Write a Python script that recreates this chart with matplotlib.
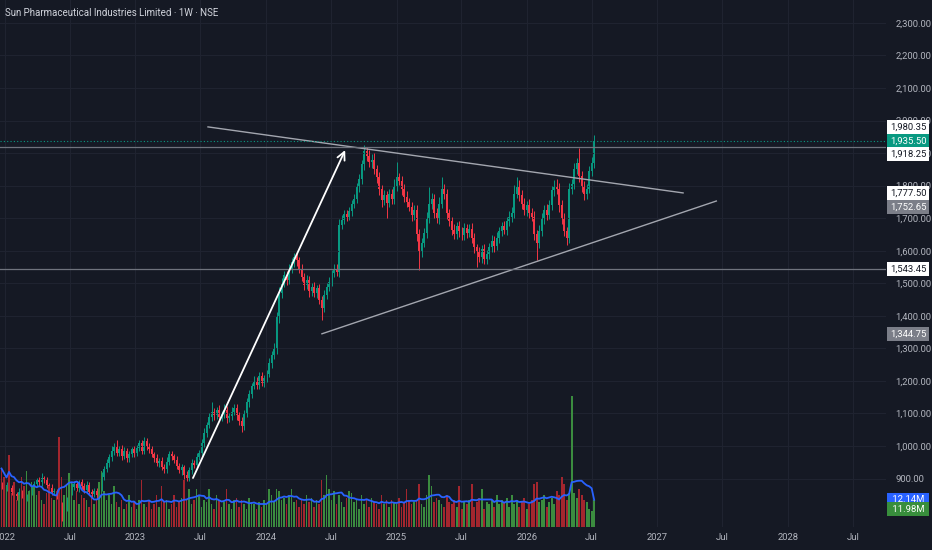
import numpy as np
import pandas as pd
import matplotlib
matplotlib.use("Agg")
import matplotlib.pyplot as plt
import matplotlib.dates as mdates

plt.rcParams['font.family'] = ['Roboto', 'DejaVu Sans']

# weekly closes
closes = [875, 868, 880, 872, 860, 852, 845, 858, 850, 838, 845, 855,
          868, 882, 895, 888, 902, 895,
          880, 872, 858, 862, 848,
          820, 795, 810, 835,
          858, 875, 882,
          870, 888, 878, 865, 880, 860,
          852, 862, 848, 870,
          905, 930, 948, 965,
          985, 1000, 978, 992,
          970, 985, 962, 975, 990, 978,
          995, 1008, 985, 1015, 1000, 990,
          975, 962, 948, 955, 935, 928,
          952, 975, 968, 958,
          940, 925, 935, 912, 902,
          925, 948, 942, 965, 980,
          1010, 1040, 1065, 1090, 1105,
          1095, 1110, 1090, 1098, 1112, 1085, 1092, 1105, 1118, 1095, 1078, 1062,
          1100, 1135, 1160, 1185,
          1200, 1188, 1215, 1195, 1208, 1222,
          1255, 1280, 1300,
          1395, 1470, 1500,
          1525, 1510, 1545, 1565, 1580, 1570,
          1545, 1520,
          1495, 1510, 1475, 1490, 1470, 1485,
          1450, 1425,
          1465, 1490, 1505,
          1530, 1545, 1535,
          1680,
          1695, 1712, 1705, 1722,
          1745, 1760,
          1795, 1820,
          1865, 1905, 1890,
          1872, 1880,
          1850, 1825,
          1790, 1755,
          1770, 1748, 1775, 1760,
          1800, 1825, 1815,
          1790, 1765, 1750,
          1735, 1710, 1725,
          1650, 1600,
          1625, 1655,
          1700, 1745, 1760,
          1715, 1700,
          1745, 1790, 1775,
          1715, 1690,
          1665, 1650, 1675, 1660, 1648, 1670, 1655, 1668,
          1640, 1610,
          1595, 1580, 1605, 1575, 1590,
          1610, 1630, 1615, 1640,
          1660, 1675, 1665, 1690, 1705, 1715,
          1775, 1800,
          1770, 1745,
          1725, 1740, 1715, 1705,
          1650, 1625, 1660,
          1700, 1725, 1710, 1740,
          1785, 1800, 1790,
          1740, 1700, 1660, 1640,
          1790, 1805,
          1850, 1870,
          1830,
          1795, 1775, 1790,
          1845, 1870,
          1935.5]
first_open = 880

up_wick = [8, 6, 10, 7, 9, 5, 8, 12, 6, 9, 7, 10,
           9, 12, 8, 10, 14, 7, 9, 6, 11, 8, 7, 10,
           9, 12, 8, 14, 10, 9, 12, 8, 10, 7, 11, 9,
           8, 10, 9, 12, 14, 10, 12, 9, 15, 10, 18, 8,
           10, 12, 9, 11, 8, 10, 9, 12, 10, 12, 9, 8,
           10, 8, 12, 9, 11, 10, 14, 9, 10, 8, 12, 9,
           10, 8, 12, 9, 11, 10, 13, 9, 12, 14, 10, 12,
           30, 12, 10, 15, 11, 18, 12, 10, 14, 12, 11, 9,
           12, 10, 14, 12, 10, 15, 12, 11, 13, 10, 12, 14,
           12, 15, 18, 20, 16, 14, 12, 15, 13, 12, 16, 12,
           14, 12, 16, 13, 12, 14, 11, 13, 12, 14, 12, 15,
           12, 14, 13, 18, 15, 12, 14, 13, 12, 15, 14, 16,
           15, 20, 14, 18, 16, 20, 14, 18, 12, 15, 14, 16,
           14, 20, 47, 15, 16, 14, 18, 12, 14, 16, 15, 18,
           14, 16, 20, 50, 18, 14, 16, 20, 36, 15, 16, 14,
           14, 18, 12, 15, 14, 16, 12, 15, 18, 14, 12, 15,
           14, 16, 12, 15, 18, 14, 16, 14, 12, 15, 14, 18,
           20, 26, 26, 18, 15, 16, 14, 18, 15, 16, 14, 18,
           15, 14, 18, 16, 14, 17, 20, 18, 16, 15, 14, 18,
           16, 20, 14, 45, 15, 18, 14, 16, 18, 20]

down_wick = [8, 10, 6, 9, 12, 8, 10, 7, 9, 11, 8, 6,
             7, 9, 8, 12, 10, 8, 9, 11, 8, 10, 12, 15,
             25, 12, 10, 8, 9, 11, 8, 12, 10, 9, 8, 12,
             10, 8, 12, 9, 8, 10, 9, 11, 10, 12, 9, 10,
             12, 9, 11, 10, 8, 12, 9, 10, 11, 9, 12, 10,
             9, 12, 10, 11, 9, 10, 12, 9, 11, 10, 12, 9,
             14, 12, 10, 9, 12, 10, 11, 9, 10, 12, 11, 10,
             12, 14, 12, 10, 13, 12, 14, 11, 12, 10, 14, 12,
             19, 12, 10, 14, 12, 11, 14, 12, 10, 13, 12, 11,
             14, 12, 16, 18, 14, 12, 15, 13, 12, 14, 16, 12,
             14, 15, 13, 16, 14, 12, 15, 13, 38, 14, 12, 15,
             13, 12, 14, 15, 12, 14, 13, 12, 15, 14, 12, 15,
             14, 16, 15, 14, 18, 15, 16, 18, 20, 16, 48, 15,
             18, 15, 16, 14, 18, 15, 16, 14, 18, 16, 20, 59,
             18, 15, 16, 14, 18, 16, 15, 18, 14, 16, 18, 15,
             16, 14, 15, 18, 14, 16, 15, 14, 16, 18, 45, 16,
             18, 15, 16, 14, 15, 18, 14, 16, 15, 14, 16, 15,
             16, 15, 14, 18, 16, 15, 18, 16, 14, 18, 54, 16,
             15, 18, 16, 14, 15, 18, 16, 20, 18, 16, 22, 15,
             16, 14, 15, 18, 16, 20, 15, 14, 16, 15]

# weekly volume in millions
volumes = [26, 22, 18, 32, 15, 20, 12, 14, 22, 18, 25, 16,
           20, 18, 14, 16, 12, 10, 15, 18, 13, 12, 16, 40,
           22, 14, 18, 24, 20, 12, 16, 10, 14, 13, 12, 9,
           14, 10, 12, 20, 25, 16, 12, 14, 10, 18, 11, 9,
           12, 8, 10, 14, 9, 11, 8, 12, 21, 10, 9, 12,
           8, 10, 14, 9, 18, 11, 12, 8, 10, 14, 9, 11,
           13, 21, 12, 17, 10, 12, 17, 14, 9, 12, 11, 17,
           10, 8, 14, 12, 9, 11, 17, 10, 8, 12, 13, 9,
           12, 10, 8, 13, 11, 10, 8, 11, 9, 12, 10, 17,
           14, 11, 17, 16, 12, 13, 10, 14, 17, 11, 12, 9,
           12, 10, 14, 11, 13, 9, 12, 10, 21, 14, 23, 17,
           12, 16, 10, 14, 11, 9, 13, 16, 15, 11, 12, 8,
           14, 10, 12, 9, 13, 11, 10, 8, 14, 10, 12, 9,
           12, 11, 10, 13, 9, 11, 17, 12, 10, 11, 12, 19,
           10, 9, 14, 23, 18, 11, 13, 12, 10, 9, 14, 11,
           10, 12, 9, 18, 8, 11, 10, 12, 19, 9, 11, 13,
           17, 8, 11, 10, 12, 9, 14, 10, 12, 11, 13, 9,
           14, 10, 12, 9, 11, 13, 8, 10, 12, 19, 20, 11,
           12, 14, 9, 11, 13, 10, 16, 14, 22, 19, 12, 15,
           58, 15, 13, 17, 14, 12, 11, 8, 7, 11.98]
vol_ma_len = 9

first_week = "2021-12-22"

# drawings on the chart
upper_dates = ["2023-07-23", "2027-03-14"]
upper_prices = [1980.35, 1777.50]
lower_dates = ["2024-06-06", "2027-06-15"]
lower_prices = [1344.75, 1752.65]
hline_prices = [1918.25, 1543.45]
last_price = 1935.50
arrow_start = ("2023-06-11", 901.7)
arrow_end = ("2024-08-10", 1909.0)

price_ticks = np.arange(900, 2301, 100)

BG = '#151924'
GRID = '#1f2330'
TXT = '#b2b5be'
UP = '#089981'
DN = '#f23645'
VUP = '#3b8c3f'
VDN = '#a3262e'

weeks = pd.date_range(first_week, periods=len(closes), freq="7D")
x = mdates.date2num(weeks)
c = np.array(closes, dtype=float)
o = np.r_[first_open, c[:-1]]
hi = np.maximum(o, c) + np.array(up_wick)
lo = np.minimum(o, c) - np.array(down_wick)
rising = c >= o

fig = plt.figure(figsize=(9.32, 5.5), dpi=100, facecolor=BG)
ax = fig.add_axes([0, 23 / 550, 886 / 932, 527 / 550])
ax.set_facecolor(BG)

ax.vlines(x, lo, hi, colors=np.where(rising, UP, DN), lw=0.7)
body = np.maximum(np.abs(c - o), 2.5)
ax.bar(x, body, bottom=np.minimum(o, c), width=5, color=np.where(rising, UP, DN), lw=0)

# volume pane on top
ax2 = ax.twinx()
ax2.patch.set_visible(False)
ax2.bar(x, volumes, width=5, color=np.where(rising, VUP, VDN), lw=0)
vol_ma = pd.Series(volumes).rolling(vol_ma_len, min_periods=1).mean()
ax2.plot(x, vol_ma, color='#2962ff', lw=1.3)
ax2.set_ylim(0, 234.2)
ax2.set_yticks([])
for s in ax2.spines.values():
    s.set_visible(False)

x0 = mdates.datestr2num(first_week)
ax.set_xlim(x0 - 4.2, x0 + 2476)
ax.set_ylim(751.2, 2370.2)

tick_dates = pd.date_range("2022-01-01", "2028-07-01", freq="6MS")
ax.set_xticks(mdates.date2num(tick_dates))
ax.set_xticklabels([str(d.year) if d.month == 1 else "Jul" for d in tick_dates])
ax.set_yticks(price_ticks)
ax.set_yticklabels(["{:,.2f}".format(p) for p in price_ticks])
ax.yaxis.tick_right()
ax.tick_params(axis='y', length=0, pad=7, labelsize=6.8, colors=TXT)
ax.tick_params(axis='x', length=0, pad=4, labelsize=6.8, colors=TXT)
ax.grid(True, color=GRID, lw=0.8)
for s in ax.spines.values():
    s.set_visible(False)

# drawings
ax2.plot(mdates.datestr2num(upper_dates), upper_prices, color='#a3a6af', lw=1, transform=ax.transData)
ax2.plot(mdates.datestr2num(lower_dates), lower_prices, color='#a3a6af', lw=1, transform=ax.transData)
for p in hline_prices:
    ax2.plot([0, 1], [p, p], color='#6f737d', lw=0.9, transform=ax.get_yaxis_transform())
ax2.plot([0, 1], [last_price, last_price], color=UP, lw=0.8, ls=(0, (1, 2)),
         transform=ax.get_yaxis_transform())
ax2.annotate("", xy=(mdates.datestr2num(arrow_end[0]), arrow_end[1]),
             xytext=(mdates.datestr2num(arrow_start[0]), arrow_start[1]),
             xycoords=ax.transData, textcoords=ax.transData,
             arrowprops=dict(arrowstyle="->", color='white', lw=1.3,
                             mutation_scale=14, shrinkA=0, shrinkB=0))


def price_box(val, fc, tc, dy=0, trans=None, text=None):
    ax2.annotate(text or "{:,.2f}".format(val), xy=(1, val),
                 xycoords=trans or ax.get_yaxis_transform(),
                 xytext=(22, dy), textcoords='offset pixels',
                 ha='center', va='center', fontsize=6.8, color=tc,
                 annotation_clip=False,
                 bbox=dict(boxstyle='square,pad=0.28', fc=fc, ec='none'))


price_box(upper_prices[0], 'white', '#131722')
price_box(last_price, UP, 'white')
price_box(hline_prices[0], 'white', '#131722', dy=-7)
price_box(upper_prices[1], 'white', '#131722')
price_box(lower_prices[1], '#7b7e88', 'white', dy=-6)
price_box(hline_prices[1], 'white', '#131722')
price_box(lower_prices[0], '#7b7e88', 'white')
price_box(vol_ma.iloc[-1] + 0.03, '#2962ff', 'white', trans=ax2.get_yaxis_transform(), text=" 12.14M ")
price_box(volumes[-1], '#388e3c', 'white', dy=-9, trans=ax2.get_yaxis_transform(), text=" 11.98M ")

fig.text(5 / 932, 1 - 13 / 550, "Sun Pharmaceutical Industries Limited · 1W · NSE",
         color='#d1d4dc', fontsize=7, va='center', ha='left')

fig.savefig("out.png", dpi=100, facecolor=BG)
